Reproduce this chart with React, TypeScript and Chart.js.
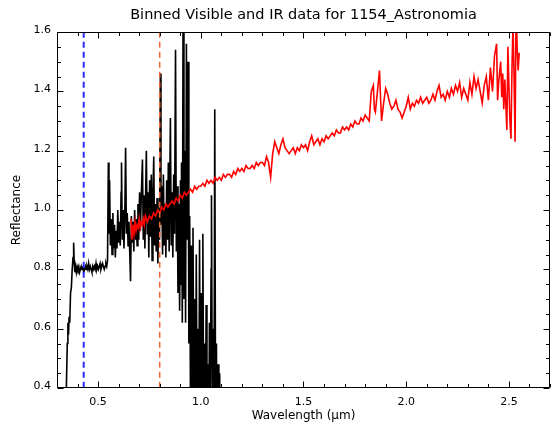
import React, { useEffect, useRef } from "react";
import { Chart, registerables } from "chart.js";

Chart.register(...registerables);

const TITLE = "Binned Visible and IR data for 1154_Astronomia";
const X_TITLE = "Wavelength (\u03bcm)";
const Y_TITLE = "Reflectance";

const xMajorTicks = [0.5, 1.0, 1.5, 2.0, 2.5];
const yMajorTicks = [0.4, 0.6, 0.8, 1.0, 1.2, 1.4, 1.6];

const blueLineX = 0.43;
const orangeLineX = 0.8;

// visible spectrum (black)
const visibleData: [number, number][] = [
  [0.345, 0.38], [0.350, 0.55], [0.353, 0.62], [0.356, 0.58], [0.359, 0.64], [0.362, 0.62],
  [0.366, 0.72], [0.370, 0.74], [0.374, 0.80], [0.378, 0.84], [0.381, 0.89], [0.384, 0.82],
  [0.387, 0.79], [0.390, 0.81], [0.394, 0.79], [0.398, 0.81], [0.402, 0.80], [0.406, 0.81],
  [0.410, 0.79], [0.414, 0.80], [0.418, 0.81], [0.422, 0.80], [0.426, 0.81], [0.430, 0.79],
  [0.434, 0.80], [0.438, 0.81], [0.442, 0.80], [0.446, 0.81], [0.450, 0.80], [0.454, 0.82],
  [0.458, 0.80], [0.462, 0.81], [0.466, 0.80], [0.470, 0.79], [0.474, 0.81], [0.478, 0.80],
  [0.482, 0.81], [0.486, 0.80], [0.490, 0.82], [0.494, 0.80], [0.498, 0.81], [0.502, 0.80],
  [0.506, 0.81], [0.510, 0.82], [0.514, 0.80], [0.518, 0.81], [0.522, 0.82], [0.526, 0.81],
  [0.530, 0.80], [0.534, 0.81], [0.538, 0.82], [0.542, 0.81], [0.546, 0.83],
  [0.550, 1.16], [0.553, 0.92], [0.556, 1.10], [0.560, 0.88], [0.564, 0.97], [0.568, 0.85],
  [0.572, 0.99], [0.576, 0.87], [0.580, 0.95], [0.584, 0.84], [0.588, 0.93], [0.592, 0.87],
  [0.596, 1.00], [0.600, 0.89], [0.604, 0.96], [0.608, 0.88], [0.612, 1.06], [0.614, 1.16],
  [0.618, 0.90], [0.622, 1.00], [0.626, 0.87], [0.630, 0.98], [0.634, 1.21], [0.638, 0.92],
  [0.642, 0.99], [0.646, 0.88], [0.650, 0.96], [0.654, 0.86], [0.658, 0.76], [0.662, 0.98],
  [0.666, 0.89], [0.670, 0.96], [0.674, 0.86], [0.678, 1.00], [0.682, 0.90], [0.686, 0.97],
  [0.690, 0.88], [0.694, 1.02], [0.698, 0.90], [0.702, 1.06], [0.706, 0.93], [0.710, 1.04],
  [0.716, 1.17], [0.720, 0.90], [0.724, 1.05], [0.728, 0.87], [0.732, 1.08], [0.735, 1.20],
  [0.739, 0.92], [0.743, 1.06], [0.747, 0.84], [0.751, 1.10], [0.755, 0.91], [0.759, 1.12],
  [0.763, 0.83], [0.767, 1.05], [0.771, 1.18], [0.775, 0.88], [0.779, 1.02], [0.783, 0.86],
  [0.787, 1.04], [0.791, 0.82], [0.795, 1.00], [0.799, 0.90], [0.803, 1.46],
  [0.806, 0.95], [0.810, 1.08], [0.814, 0.85], [0.818, 1.12], [0.822, 0.88], [0.826, 1.02],
  [0.830, 0.84], [0.834, 1.10], [0.838, 0.90], [0.842, 1.16], [0.846, 0.86], [0.852, 1.31],
  [0.856, 0.88], [0.860, 1.06], [0.864, 0.84], [0.868, 1.12], [0.872, 0.92], [0.877, 1.54],
  [0.881, 0.86], [0.885, 1.08], [0.889, 0.72], [0.893, 1.02], [0.897, 0.66], [0.901, 1.10],
  [0.904, 0.75], [0.906, 1.16], [0.910, 0.62], [0.914, 1.75], [0.918, 0.70], [0.922, 1.20],
  [0.926, 0.62], [0.930, 1.56], [0.934, 0.90], [0.938, 1.50], [0.942, 0.55], [0.946, 0.98],
  [0.950, 0.30], [0.954, 0.88], [0.958, 0.20], [0.962, 0.94], [0.966, 0.35], [0.970, 0.70],
  [0.974, 0.15], [0.978, 0.85], [0.982, 0.30], [0.986, 0.60], [0.990, 0.20], [0.994, 0.90],
  [0.998, 0.25], [1.002, 0.72], [1.006, 0.10], [1.010, 0.92], [1.014, 0.30], [1.018, 0.55],
  [1.022, 0.15], [1.026, 0.68], [1.030, 0.25], [1.034, 0.48], [1.038, 0.10], [1.042, 0.62],
  [1.046, 0.30], [1.050, 0.80], [1.052, 1.05], [1.056, 0.35], [1.060, 0.60], [1.064, 0.20],
  [1.068, 1.34], [1.072, 0.30], [1.076, 0.55], [1.080, 0.15], [1.084, 0.48], [1.088, 0.20],
  [1.092, 0.45], [1.096, 0.10], [1.100, 0.35],
];

// IR spectrum (red)
const irData: [number, number][] = [
  [0.660, 0.97], [0.665, 0.90], [0.670, 0.95], [0.675, 0.92], [0.680, 0.96], [0.685, 0.93],
  [0.690, 0.95], [0.695, 0.94], [0.700, 0.97], [0.705, 0.94], [0.710, 0.96], [0.715, 0.95],
  [0.720, 0.97], [0.725, 0.95], [0.730, 0.98], [0.740, 0.96], [0.750, 0.98], [0.760, 0.97],
  [0.770, 0.99], [0.780, 0.98], [0.790, 1.00], [0.800, 0.99], [0.810, 1.01], [0.820, 1.00],
  [0.830, 1.02], [0.840, 1.01], [0.850, 1.02], [0.860, 1.03], [0.870, 1.02], [0.880, 1.04],
  [0.890, 1.03], [0.900, 1.05], [0.910, 1.04], [0.920, 1.06], [0.930, 1.05], [0.940, 1.06],
  [0.950, 1.07], [0.960, 1.06], [0.970, 1.08], [0.980, 1.07], [0.990, 1.08], [1.000, 1.08],
  [1.010, 1.09], [1.020, 1.08], [1.030, 1.10], [1.040, 1.09], [1.050, 1.10], [1.060, 1.09],
  [1.070, 1.11], [1.080, 1.10], [1.090, 1.11], [1.100, 1.10], [1.110, 1.12], [1.120, 1.11],
  [1.130, 1.12], [1.140, 1.12], [1.150, 1.11], [1.160, 1.13], [1.170, 1.12], [1.180, 1.14],
  [1.190, 1.13], [1.200, 1.14], [1.210, 1.13], [1.220, 1.15], [1.230, 1.14], [1.240, 1.14],
  [1.250, 1.15], [1.260, 1.14], [1.270, 1.16], [1.280, 1.15], [1.290, 1.16], [1.300, 1.16],
  [1.310, 1.15], [1.320, 1.18], [1.330, 1.16], [1.340, 1.11], [1.350, 1.19], [1.360, 1.23],
  [1.370, 1.21], [1.380, 1.19], [1.390, 1.22], [1.400, 1.24], [1.410, 1.21], [1.420, 1.20],
  [1.430, 1.19], [1.440, 1.20], [1.450, 1.21], [1.460, 1.19], [1.470, 1.21], [1.480, 1.20],
  [1.490, 1.22], [1.500, 1.21], [1.510, 1.22], [1.520, 1.20], [1.530, 1.23], [1.540, 1.25],
  [1.550, 1.22], [1.560, 1.23], [1.570, 1.24], [1.580, 1.22], [1.590, 1.24], [1.600, 1.23],
  [1.610, 1.25], [1.620, 1.24], [1.630, 1.25], [1.640, 1.26], [1.650, 1.25], [1.660, 1.27],
  [1.670, 1.26], [1.680, 1.26], [1.690, 1.28], [1.700, 1.27], [1.710, 1.28], [1.720, 1.27],
  [1.730, 1.29], [1.740, 1.28], [1.750, 1.30], [1.760, 1.29], [1.770, 1.29], [1.780, 1.31],
  [1.790, 1.30], [1.800, 1.32], [1.810, 1.31], [1.820, 1.30], [1.830, 1.40], [1.840, 1.42],
  [1.845, 1.34], [1.850, 1.33], [1.860, 1.40], [1.870, 1.47], [1.875, 1.38], [1.880, 1.30],
  [1.890, 1.36], [1.900, 1.41], [1.910, 1.39], [1.920, 1.36], [1.930, 1.34], [1.940, 1.35],
  [1.950, 1.37], [1.960, 1.34], [1.970, 1.33], [1.980, 1.31], [1.990, 1.33], [2.000, 1.35],
  [2.010, 1.38], [2.020, 1.34], [2.030, 1.36], [2.040, 1.35], [2.050, 1.37], [2.060, 1.36],
  [2.070, 1.38], [2.080, 1.36], [2.090, 1.37], [2.100, 1.38], [2.110, 1.36], [2.120, 1.37],
  [2.130, 1.39], [2.140, 1.37], [2.150, 1.40], [2.160, 1.42], [2.170, 1.38], [2.180, 1.39],
  [2.190, 1.37], [2.200, 1.40], [2.210, 1.38], [2.220, 1.41], [2.230, 1.39], [2.240, 1.42],
  [2.250, 1.40], [2.260, 1.43], [2.270, 1.38], [2.280, 1.41], [2.290, 1.39], [2.300, 1.37],
  [2.310, 1.43], [2.320, 1.39], [2.330, 1.45], [2.340, 1.41], [2.350, 1.44], [2.360, 1.40],
  [2.370, 1.36], [2.380, 1.42], [2.390, 1.45], [2.400, 1.37], [2.410, 1.48], [2.420, 1.40],
  [2.430, 1.52], [2.440, 1.56], [2.445, 1.37], [2.450, 1.43], [2.460, 1.50], [2.465, 1.38],
  [2.470, 1.46], [2.475, 1.34], [2.480, 1.44], [2.490, 1.27], [2.495, 1.55], [2.500, 1.42],
  [2.505, 1.30], [2.510, 1.24], [2.515, 1.48], [2.520, 1.63], [2.525, 1.45], [2.530, 1.23],
  [2.535, 1.70], [2.540, 1.55], [2.545, 1.47], [2.550, 1.53],
];

const FONT = "'DejaVu Sans', Verdana, sans-serif";

const frameTicks = {
  id: "frameTicks",
  afterDatasetsDraw(chart: any) {
    const { ctx, chartArea: a, scales } = chart;
    const xs = scales.x;
    const ys = scales.y;
    const L = Math.round(a.left) + 0.5;
    const R = Math.round(a.right) - 0.5;
    const T = Math.round(a.top) + 0.5;
    const B = Math.round(a.bottom) - 0.5;
    ctx.save();
    ctx.strokeStyle = "#000";
    ctx.lineWidth = 1;
    ctx.beginPath();
    ctx.rect(L, T, R - L, B - T);
    ctx.stroke();
    const major = 6;
    const minor = 3.5;
    ctx.beginPath();
    for (let i = 3; i <= 27; i++) {
      const v = i / 10;
      const px = Math.round(xs.getPixelForValue(v)) + 0.5;
      const len = i % 5 === 0 ? major : minor;
      ctx.moveTo(px, B);
      ctx.lineTo(px, B - len);
      ctx.moveTo(px, T);
      ctx.lineTo(px, T + len);
    }
    for (let i = 8; i <= 32; i++) {
      const v = i / 20;
      const py = Math.round(ys.getPixelForValue(v)) + 0.5;
      const len = i % 4 === 0 ? major : minor;
      ctx.moveTo(L, py);
      ctx.lineTo(L + len, py);
      ctx.moveTo(R, py);
      ctx.lineTo(R - len, py);
    }
    ctx.stroke();
    ctx.restore();
  },
};

export default function App() {
  const ref = useRef<HTMLCanvasElement | null>(null);
  useEffect(() => {
    if (!ref.current) return;
    const chart = new Chart(ref.current, {
      type: "line",
      data: {
        datasets: [
          {
            label: "blue",
            data: [
              { x: blueLineX, y: 0.3 },
              { x: blueLineX, y: 1.7 },
            ],
            borderColor: "#2b2bff",
            borderWidth: 2,
            borderDash: [6, 4],
            pointRadius: 0,
            order: 0,
          },
          {
            label: "orange",
            data: [
              { x: orangeLineX, y: 0.3 },
              { x: orangeLineX, y: 1.7 },
            ],
            borderColor: "#ee6633",
            borderWidth: 1.5,
            borderDash: [6, 4],
            pointRadius: 0,
            order: 1,
          },
          {
            label: "IR",
            data: irData.map(([x, y]) => ({ x, y })),
            borderColor: "#ff0000",
            borderWidth: 1.6,
            pointRadius: 0,
            tension: 0,
            order: 2,
          },
          {
            label: "Visible",
            data: visibleData.map(([x, y]) => ({ x, y })),
            borderColor: "#000000",
            borderWidth: 1.6,
            pointRadius: 0,
            tension: 0,
            order: 3,
          },
        ],
      },
      options: {
        responsive: false,
        animation: false,
        events: [],
        layout: { padding: { left: 0, right: 3, top: 0, bottom: 0 } },
        plugins: {
          legend: { display: false },
          tooltip: { enabled: false },
          title: {
            display: true,
            text: TITLE,
            color: "#000",
            fullSize: false,
            font: { size: 14.5, family: FONT, weight: "normal" },
            padding: { top: 7, bottom: 7.6 },
          },
        },
        scales: {
          x: {
            type: "linear",
            min: 0.3,
            max: 2.7,
            grid: { display: false, drawTicks: false },
            border: { display: false },
            afterBuildTicks: (s: any) => {
              s.ticks = xMajorTicks.map((v) => ({ value: v }));
            },
            afterFit: (s: any) => {
              s.height = 35;
            },
            ticks: {
              color: "#000",
              font: { size: 11, family: FONT },
              padding: 8,
              maxRotation: 0,
              autoSkip: false,
              callback: (v: any) => Number(v).toFixed(1),
            },
            title: {
              display: true,
              text: X_TITLE,
              color: "#000",
              font: { size: 12, family: FONT },
              padding: { top: 0, bottom: 0 },
            },
          },
          y: {
            type: "linear",
            min: 0.4,
            max: 1.6,
            grid: { display: false, drawTicks: false },
            border: { display: false },
            afterBuildTicks: (s: any) => {
              s.ticks = yMajorTicks.map((v) => ({ value: v }));
            },
            afterFit: (s: any) => {
              s.width = 57;
            },
            ticks: {
              color: "#000",
              font: { size: 11, family: FONT },
              padding: 6,
              labelOffset: -2,
              autoSkip: false,
              callback: (v: any) => Number(v).toFixed(1),
            },
            title: {
              display: true,
              text: Y_TITLE,
              color: "#000",
              font: { size: 12, family: FONT },
              padding: { top: 10, bottom: 0 },
            },
          },
        },
      },
      plugins: [frameTicks],
    });
    return () => chart.destroy();
  }, []);
  return (
    <div style={{ position: "absolute", left: 0, top: 0, width: 553, height: 423, background: "#fff" }}>
      <canvas ref={ref} width={553} height={423} style={{ width: 553, height: 423, display: "block" }} />
    </div>
  );
}
